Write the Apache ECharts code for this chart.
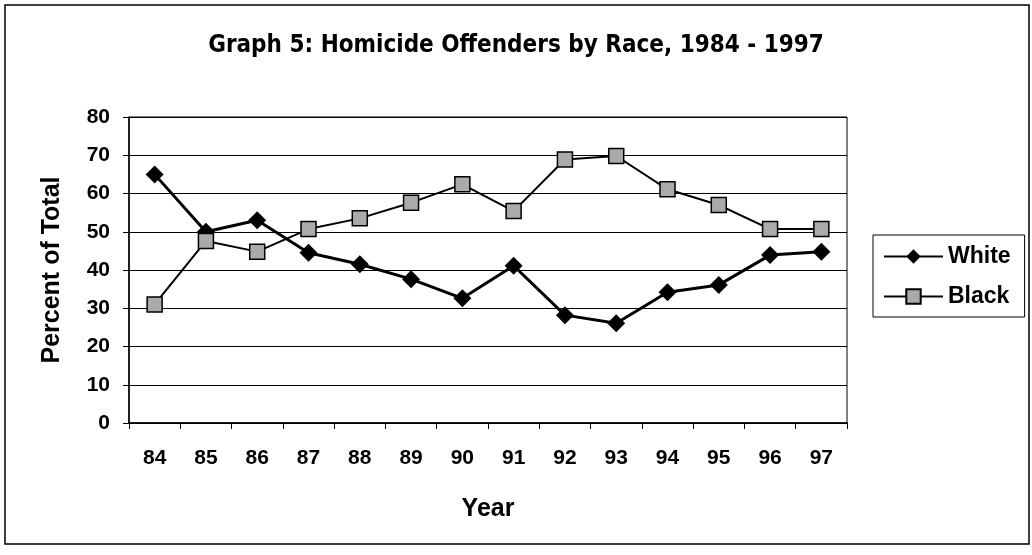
<!DOCTYPE html>
<html>
<head>
<meta charset="utf-8">
<style>
  html, body { margin: 0; padding: 0; background: #fff; }
  #main { width: 1032px; height: 555px; }
</style>
<script src="https://cdn.jsdelivr.net/npm/echarts@6/dist/echarts.min.js"></script>
</head>
<body>
<div id="main"></div>
<script>
// data
var years = ['84', '85', '86', '87', '88', '89', '90', '91', '92', '93', '94', '95', '96', '97'];
var white = [65, 50, 53, 44.5, 41.5, 37.6, 32.6, 41.1, 28.2, 26.1, 34.2, 36.1, 43.9, 44.8];
var black = [31, 47.6, 44.8, 50.7, 53.5, 57.6, 62.4, 55.4, 68.9, 69.8, 61.1, 57, 50.7, 50.7];

var font = "'Liberation Sans', Arial, sans-serif";
var narrow = "'Liberation Sans Narrow', 'Arial Narrow', 'DejaVu Sans Condensed', sans-serif";

var option = {
    backgroundColor: '#fff',
    animation: false,
    title: {
        text: 'Graph 5: Homicide Offenders by Race, 1984 - 1997',
        left: 'center',
        top: 29,
        textStyle: { fontFamily: narrow, fontWeight: 'bold', fontSize: 24, color: '#000' }
    },
    grid: {
        left: 129,
        right: 185,
        top: 117,
        bottom: 132,
        show: true,
        borderColor: '#000',
        borderWidth: 1
    },
    legend: {
        orient: 'vertical',
        left: 873,
        top: 235,
        padding: [10, 14, 9, 10],
        itemGap: 17,
        itemWidth: 59,
        itemHeight: 18,
        borderColor: '#000',
        borderWidth: 1,
        textStyle: { fontFamily: font, fontWeight: 'bold', fontSize: 23, color: '#000' },
        data: ['White', 'Black']
    },
    xAxis: {
        type: 'category',
        data: years,
        name: 'Year',
        nameLocation: 'middle',
        nameGap: 74,
        nameTextStyle: { fontFamily: font, fontWeight: 'bold', fontSize: 25, color: '#000' },
        axisLine: { lineStyle: { color: '#000', width: 1.5 } },
        axisTick: { show: true, length: 6, lineStyle: { color: '#000' } },
        axisLabel: { margin: 25, fontFamily: font, fontWeight: 'bold', fontSize: 21, color: '#000' }
    },
    yAxis: {
        type: 'value',
        min: 0,
        max: 80,
        interval: 10,
        name: 'Percent of Total',
        nameLocation: 'middle',
        nameGap: 64,
        nameTextStyle: { fontFamily: font, fontWeight: 'bold', fontSize: 25, color: '#000' },
        axisLine: { show: true, lineStyle: { color: '#000', width: 1.5 } },
        axisTick: { show: true, length: 6, lineStyle: { color: '#000' } },
        axisLabel: { margin: 19, fontFamily: font, fontWeight: 'bold', fontSize: 21, color: '#000' },
        splitLine: { show: true, lineStyle: { color: '#000', width: 1 } }
    },
    series: [{
        name: 'White',
        type: 'line',
        data: white,
        symbol: 'diamond',
        symbolSize: [18, 18],
        itemStyle: { color: '#000' },
        lineStyle: { color: '#000', width: 3 }
    }, {
        name: 'Black',
        type: 'line',
        data: black,
        symbol: 'rect',
        symbolSize: 15,
        itemStyle: { color: '#aaa', borderColor: '#000', borderWidth: 1.5 },
        lineStyle: { color: '#000', width: 2 }
    }],
    graphic: [{
        type: 'rect',
        shape: { x: 5, y: 5, width: 1024, height: 539 },
        style: { fill: null, stroke: '#000', lineWidth: 1.5 },
        silent: true,
        z: -1
    }]
};

var myChart = echarts.init(document.getElementById('main'));
myChart.setOption(option);
</script>
</body>
</html>
